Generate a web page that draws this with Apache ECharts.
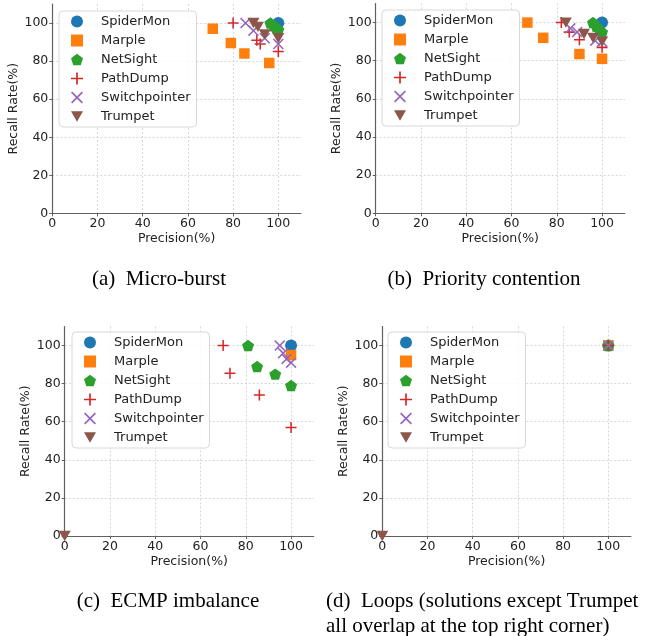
<!DOCTYPE html>
<html>
<head>
<meta charset="utf-8">
<script src="https://cdn.jsdelivr.net/npm/echarts@6/dist/echarts.min.js"></script>
<style>
  html, body { margin: 0; padding: 0; background: #fff; }
  #chart { width: 647px; height: 636px; }
</style>
</head>
<body>
<div id="chart"></div>
<script>
// methods, in drawing order
const methods = ['SpiderMon', 'Marple', 'NetSight', 'PathDump', 'Switchpointer', 'Trumpet'];
const colors = ['#1f77b4', '#ff7f0e', '#2ca02c', '#d62728', '#9467bd', '#8c564b'];

// [precision, recall] points per method, one list per panel
const microBurst = [
  [[100, 100]],
  [[71, 97], [79, 89.5], [85, 84], [96, 79]],
  [[96.5, 100], [98, 98.5], [99, 97.5], [100, 96.5]],
  [[80, 100], [90.5, 91], [92, 89], [100, 85]],
  [[85.5, 100], [89, 96], [94, 92], [100, 89]],
  [[89, 100], [91, 98], [94, 94], [100, 92]]
];
const priority = [
  [[100, 100]],
  [[67, 100], [74, 92], [90, 83.5], [100, 81]],
  [[96, 100], [97.5, 98], [99, 96], [100, 95]],
  [[82, 100], [85.5, 95], [90, 91], [100, 87]],
  [[86, 97], [89, 95], [97, 90.5], [100, 90]],
  [[84, 100], [92, 94], [96, 92], [100, 90]]
];
const ecmp = [
  [[100, 100]],
  [[100, 95]],
  [[81, 100], [85, 89], [93, 85], [100, 79]],
  [[70, 100], [73, 85.5], [86, 74], [100, 57]],
  [[95, 100], [96.5, 96], [98, 93], [100, 91]],
  [[0, 0]]
];
const loops = [
  [[100, 100]],
  [[100, 100]],
  [[100, 100]],
  [[100, 100]],
  [[100, 100]],
  [[0, 0]]
];

const xTicks = [0, 20, 40, 60, 80, 100];
const yTicks = [0, 20, 40, 60, 80, 100];
const captions = ['(a)  Micro-burst', '(b)  Priority contention', '(c)  ECMP imbalance',
  '(d)  Loops (solutions except Trumpet', 'all overlap at the top right corner)'];

const panels = [microBurst, priority, ecmp, loops];

// marker shapes like matplotlib's o s p + x v
const symbols = [
  'circle',
  'rect',
  'path://M50,0 L100,36.3 L80.9,95.1 L19.1,95.1 L0,36.3 Z',
  'path://M43,0 L57,0 L57,43 L100,43 L100,57 L57,57 L57,100 L43,100 L43,57 L0,57 L0,43 L43,43 Z',
  'path://M0,10 L10,0 L50,40 L90,0 L100,10 L60,50 L100,90 L90,100 L50,60 L10,100 L0,90 L40,50 Z',
  'path://M0,0 L100,0 L50,86.6 Z'
];
const sizes = [12, 10.5, 12, 11, 11, 12];

const grids = [
  { left: 52.3, top: 4, width: 248.6, height: 209.4 },
  { left: 375.7, top: 3.5, width: 249, height: 209.8 },
  { left: 64.7, top: 326.5, width: 249, height: 209.5 },
  { left: 382.3, top: 326.5, width: 248.6, height: 209.5 }
];
const legendPos = [[59, 11], [382, 10], [72, 332], [388, 332]];

const font = 'DejaVu Sans';
const axisColor = '#606060';

function makeAxis(i, isX) {
  const ticks = isX ? xTicks : yTicks;
  return {
    type: 'value',
    gridIndex: i,
    min: 0,
    max: 110,
    interval: 20,
    name: isX ? 'Precision(%)' : 'Recall Rate(%)',
    nameLocation: 'middle',
    nameGap: isX ? 19 : 32,
    nameTextStyle: { fontFamily: font, fontSize: 12.5, color: '#222' },
    axisLine: { show: true, onZero: false, lineStyle: { color: axisColor, width: 1.2 } },
    axisTick: { show: true, length: 3, customValues: ticks, lineStyle: { color: axisColor } },
    axisLabel: { customValues: ticks, fontFamily: font, fontSize: 12.5, color: '#222', margin: 4 },
    splitLine: { show: true, lineStyle: { color: '#cccccc', width: 0.8, type: [2, 2] } }
  };
}

const series = [];
panels.forEach((panel, p) => {
  panel.forEach((pts, m) => {
    series.push({
      type: 'scatter',
      name: methods[m],
      xAxisIndex: p,
      yAxisIndex: p,
      data: pts,
      symbol: symbols[m],
      symbolSize: sizes[m],
      symbolKeepAspect: true,
      itemStyle: { color: colors[m], opacity: 1 },
      emphasis: { disabled: true },
      z: 2 + m * 0.01
    });
  });
});

const legends = legendPos.map(pos => ({
  orient: 'vertical',
  left: pos[0],
  top: pos[1],
  data: methods,
  selectedMode: false,
  itemWidth: 12,
  itemHeight: 12,
  itemGap: 6,
  padding: [4, 6, 4, 12],
  borderColor: '#d8d8d8',
  borderWidth: 1,
  borderRadius: 4,
  backgroundColor: 'rgba(255,255,255,0.85)',
  textStyle: { fontFamily: font, fontSize: 13, color: '#222', lineHeight: 13, padding: [0, 0, 0, 13] }
}));

const capFont = '21px "Liberation Serif"';
const graphic = [
  { type: 'text', x: 159, y: 279, style: { text: captions[0], font: capFont, fill: '#000', textAlign: 'center', textVerticalAlign: 'middle' } },
  { type: 'text', x: 484, y: 279, style: { text: captions[1], font: capFont, fill: '#000', textAlign: 'center', textVerticalAlign: 'middle' } },
  { type: 'text', x: 168, y: 601, style: { text: captions[2], font: capFont, fill: '#000', textAlign: 'center', textVerticalAlign: 'middle' } },
  { type: 'text', x: 326, y: 601, style: { text: captions[3], font: capFont, fill: '#000', textAlign: 'left', textVerticalAlign: 'middle' } },
  { type: 'text', x: 326, y: 626, style: { text: captions[4], font: capFont, fill: '#000', textAlign: 'left', textVerticalAlign: 'middle' } }
];

const chart = echarts.init(document.getElementById('chart'), null, { renderer: 'canvas' });
chart.setOption({
  backgroundColor: '#ffffff',
  animation: false,
  grid: grids.map(g => Object.assign({ containLabel: false, outerBoundsMode: 'none' }, g)),
  xAxis: [0, 1, 2, 3].map(i => makeAxis(i, true)),
  yAxis: [0, 1, 2, 3].map(i => makeAxis(i, false)),
  legend: legends,
  series: series,
  graphic: graphic
});
</script>
</body>
</html>
